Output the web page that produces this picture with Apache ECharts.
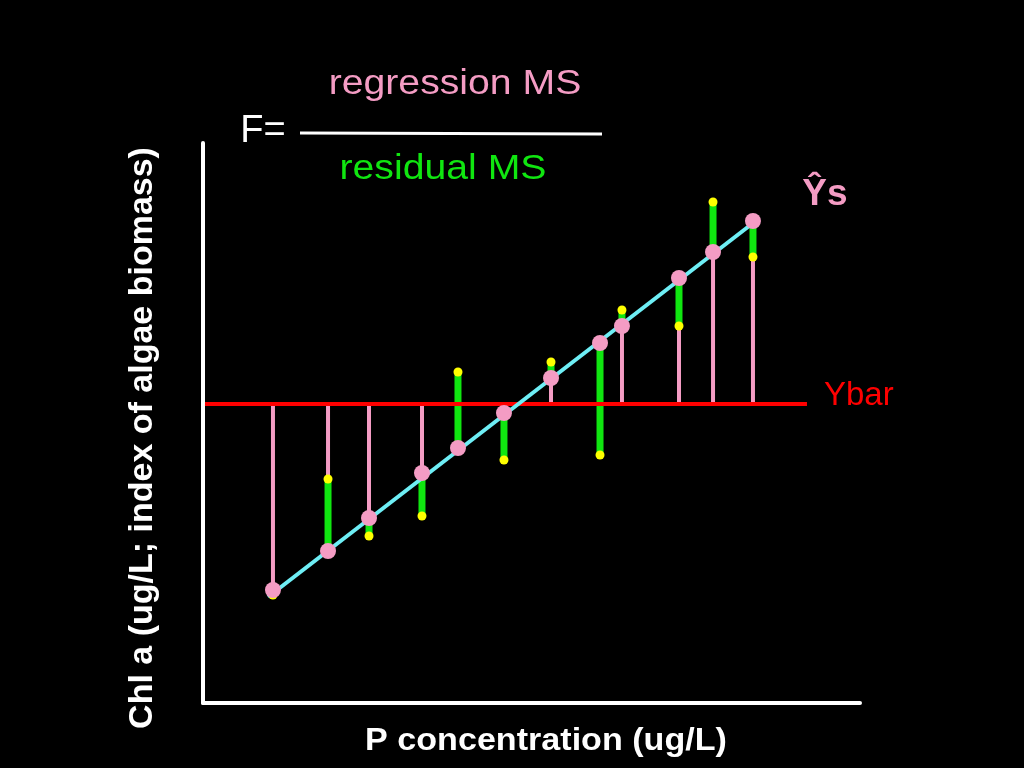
<!DOCTYPE html>
<html>
<head>
<meta charset="utf-8">
<script src="https://cdn.jsdelivr.net/npm/echarts@6/dist/echarts.min.js"></script>
<style>
html,body{margin:0;padding:0;background:#000;}
#c{width:1024px;height:768px;}
</style>
</head>
<body>
<div id="c"></div>
<script>
// P concentration (x) for each observation
var pConc = [10.65, 19.03, 25.27, 33.33, 38.81, 45.81, 52.97, 60.43, 63.77, 72.45, 77.63, 83.71];
// observed Chl a (Y)
var observed = [19.29, 40.0, 29.82, 33.39, 59.11, 43.39, 60.89, 44.29, 70.18, 67.32, 89.46, 79.64];
// fitted values (Y-hat) on the regression line
var fitted = [20.18, 27.14, 33.04, 41.07, 45.54, 51.79, 58.04, 64.29, 67.32, 75.89, 80.54, 86.07];
// mean of Y
var yBar = 53.39;
var yBarExtent = [0.3, 91.93];
// regression line end points
var regLine = [[9.89, 18.93], [84.32, 86.25]];

var PINK = '#F49CC4', GREEN = '#10E610', CYAN = '#6EEEF5', YELLOW = '#FFFF00', RED = '#FF0000';

var chart = echarts.init(document.getElementById('c'));

function segData(a, b) {
  return pConc.map(function (x, i) { return [x, a[i], b[i]]; });
}
function segRender(color, width) {
  return function (params, api) {
    var p1 = api.coord([api.value(0), api.value(1)]);
    var p2 = api.coord([api.value(0), api.value(2)]);
    return {
      type: 'line',
      shape: { x1: p1[0], y1: p1[1], x2: p2[0], y2: p2[1] },
      style: { stroke: color, lineWidth: width }
    };
  };
}

var ybarArr = pConc.map(function () { return yBar; });

var option = {
  backgroundColor: '#000',
  animation: false,
  grid: { left: 203, right: 164, top: 143, bottom: 65 },
  xAxis: {
    type: 'value', min: 0, max: 100,
    axisLine: { show: true, onZero: false, lineStyle: { color: '#fff', width: 4 } },
    axisTick: { show: false }, axisLabel: { show: false }, splitLine: { show: false }
  },
  yAxis: {
    type: 'value', min: 0, max: 100,
    axisLine: { show: true, onZero: false, lineStyle: { color: '#fff', width: 4 } },
    axisTick: { show: false }, axisLabel: { show: false }, splitLine: { show: false }
  },
  series: [
    {
      type: 'custom', name: 'regression', z: 2,
      renderItem: segRender(PINK, 4),
      encode: { x: 0, y: [1, 2] },
      data: segData(ybarArr, fitted)
    },
    {
      type: 'custom', name: 'residual', z: 3,
      renderItem: segRender(GREEN, 7),
      encode: { x: 0, y: [1, 2] },
      data: segData(observed, fitted)
    },
    {
      type: 'line', z: 4, symbol: 'none',
      lineStyle: { color: RED, width: 4 },
      data: [[yBarExtent[0], yBar], [yBarExtent[1], yBar]]
    },
    {
      type: 'line', z: 5, symbol: 'none',
      lineStyle: { color: CYAN, width: 4 },
      data: regLine
    },
    {
      type: 'scatter', z: 6, symbolSize: 9,
      itemStyle: { color: YELLOW, opacity: 1 },
      data: pConc.map(function (x, i) { return [x, observed[i]]; })
    },
    {
      type: 'scatter', z: 7, symbolSize: 16,
      itemStyle: { color: PINK, opacity: 1 },
      data: pConc.map(function (x, i) { return [x, fitted[i]]; })
    }
  ],
  graphic: [
    { type: 'text', x: 455, y: 84, scaleX: 1.12, z: 10,
      style: { text: 'regression MS', fill: PINK, fontSize: 35, fontFamily: '"Liberation Sans", Arial, sans-serif', textAlign: 'center', textVerticalAlign: 'middle' } },
    { type: 'text', x: 443, y: 169, scaleX: 1.12, z: 10,
      style: { text: 'residual MS', fill: GREEN, fontSize: 35, fontFamily: '"Liberation Sans", Arial, sans-serif', textAlign: 'center', textVerticalAlign: 'middle' } },
    { type: 'text', x: 263, y: 132, z: 10,
      style: { text: 'F=', fill: '#fff', fontSize: 38, fontFamily: '"Liberation Sans", Arial, sans-serif', textAlign: 'center', textVerticalAlign: 'middle' } },
    { type: 'line', z: 10, shape: { x1: 300, y1: 133, x2: 602, y2: 134 }, style: { stroke: '#fff', lineWidth: 3 } },
    { type: 'text', x: 825, y: 195, z: 10,
      style: { text: '\u0176s', fill: PINK, fontSize: 37, fontWeight: 'bold', fontFamily: '"Liberation Sans", Arial, sans-serif', textAlign: 'center', textVerticalAlign: 'middle' } },
    { type: 'text', x: 824, y: 396, z: 10,
      style: { text: 'Ybar', fill: RED, fontSize: 33, fontFamily: '"Liberation Sans", Arial, sans-serif', textAlign: 'left', textVerticalAlign: 'middle' } },
    { type: 'text', x: 143, y: 438, rotation: Math.PI / 2, z: 10,
      style: { text: 'Chl a (ug/L; index of algae biomass)', fill: '#fff', fontSize: 34, fontWeight: 'bold', fontFamily: '"Liberation Sans", Arial, sans-serif', textAlign: 'center', textVerticalAlign: 'middle' } },
    { type: 'text', x: 546, y: 741, scaleX: 1.1, z: 10,
      style: { text: 'P concentration (ug/L)', fill: '#fff', fontSize: 31, fontWeight: 'bold', fontFamily: '"Liberation Sans", Arial, sans-serif', textAlign: 'center', textVerticalAlign: 'middle' } }
  ]
};
chart.setOption(option);
</script>
</body>
</html>
